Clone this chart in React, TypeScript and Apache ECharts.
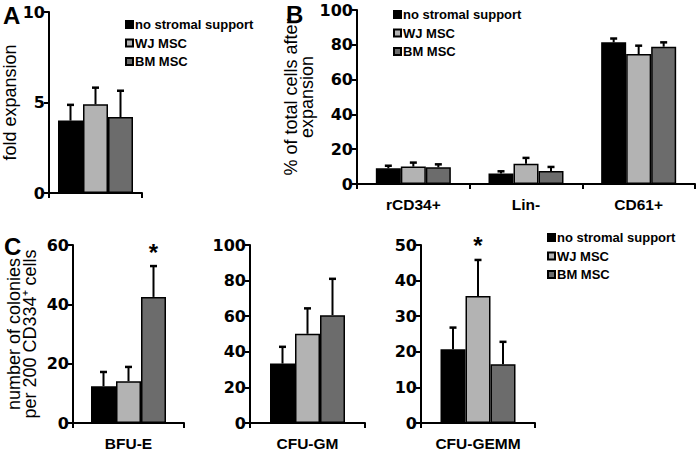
import React, { useEffect, useRef } from 'react';
import * as echarts from 'echarts';

const groups = ['no stromal support', 'WJ MSC', 'BM MSC'];
const groupColors = ['#000000', '#b3b3b3', '#6c6c6c'];

// Panel A: fold expansion
const foldCats = [''];
const foldNone = [4.0];
const foldNoneErr = [0.87];
const foldWJ = [4.9];
const foldWJErr = [0.92];
const foldBM = [4.2];
const foldBMErr = [1.45];

// Panel B: % of total cells after expansion
const phenoCats = ['rCD34+', 'Lin-', 'CD61+'];
const phenoNone = [9.0, 6.0, 81.4];
const phenoNoneErr = [1.5, 1.3, 2.2];
const phenoWJ = [10.0, 11.7, 74.7];
const phenoWJErr = [2.3, 3.3, 4.8];
const phenoBM = [9.6, 7.5, 78.9];
const phenoBMErr = [1.7, 2.3, 2.5];

// Panel C: colonies
const bfuCats = ['BFU-E'];
const bfuMean = [12.4, 14.1, 42.5];
const bfuErr = [4.8, 4.8, 10.4];
const bfuStar = [false, false, true];

const gmCats = ['CFU-GM'];
const gmMean = [33.4, 50.1, 60.6];
const gmErr = [9.4, 14.3, 20.4];
const gmStar = [false, false, false];

const gemmCats = ['CFU-GEMM'];
const gemmMean = [20.7, 35.7, 16.5];
const gemmErr = [6.1, 10.1, 6.3];
const gemmStar = [false, true, false];

const FONT = '"Liberation Sans", Arial, sans-serif';
const TICK_FONT = '"DejaVu Sans", "Liberation Sans", sans-serif';
const BAR_W = 25;

type Panel = {
  grid: any;
  cats: string[];
  means: number[][]; // [group][cat]
  errs: number[][];
  stars: boolean[][];
  max: number;
  interval: number;
  name: string;
  nameGap: number;
  labelMargin: number;
};

const panels: Panel[] = [
  {
    grid: { left: 49, top: 12, width: 93, height: 181 },
    cats: foldCats,
    means: [foldNone, foldWJ, foldBM],
    errs: [foldNoneErr, foldWJErr, foldBMErr],
    stars: [[false], [false], [false]],
    max: 10,
    interval: 5,
    name: 'fold expansion',
    nameGap: 28,
    labelMargin: 10,
  },
  {
    grid: { left: 357, top: 10, width: 338, height: 174 },
    cats: phenoCats,
    means: [phenoNone, phenoWJ, phenoBM],
    errs: [phenoNoneErr, phenoWJErr, phenoBMErr],
    stars: [[false, false, false], [false, false, false], [false, false, false]],
    max: 100,
    interval: 20,
    name: '% of total cells after\nexpansion',
    nameGap: 39,
    labelMargin: 12,
  },
  {
    grid: { left: 73, top: 245, width: 111, height: 178 },
    cats: bfuCats,
    means: bfuMean.map((v) => [v]),
    errs: bfuErr.map((v) => [v]),
    stars: bfuStar.map((v) => [v]),
    max: 60,
    interval: 20,
    name: 'number of colonies\nper 200 CD334\u207A cells',
    nameGap: 35,
    labelMargin: 12,
  },
  {
    grid: { left: 250, top: 245, width: 115, height: 178 },
    cats: gmCats,
    means: gmMean.map((v) => [v]),
    errs: gmErr.map((v) => [v]),
    stars: gmStar.map((v) => [v]),
    max: 100,
    interval: 20,
    name: '',
    nameGap: 30,
    labelMargin: 12,
  },
  {
    grid: { left: 421, top: 245, width: 114, height: 178 },
    cats: gemmCats,
    means: gemmMean.map((v) => [v]),
    errs: gemmErr.map((v) => [v]),
    stars: gemmStar.map((v) => [v]),
    max: 50,
    interval: 10,
    name: '',
    nameGap: 30,
    labelMargin: 12,
  },
];

function buildOption() {
  const grids: any[] = [];
  const xAxes: any[] = [];
  const yAxes: any[] = [];
  const series: any[] = [];

  panels.forEach((p, i) => {
    grids.push({ ...p.grid, containLabel: false, outerBoundsMode: 'none' });
    xAxes.push({
      type: 'category',
      gridIndex: i,
      data: p.cats,
      axisLine: { lineStyle: { color: '#000', width: 2 } },
      axisTick: { show: true, alignWithLabel: false, interval: 0, length: 5, lineStyle: { color: '#000', width: 2 } },
      axisLabel: { color: '#000', fontFamily: FONT, fontWeight: 'bold', fontSize: 15.5, margin: p.labelMargin, interval: 0 },
      splitLine: { show: false },
    });
    yAxes.push({
      type: 'value',
      gridIndex: i,
      min: 0,
      max: p.max,
      interval: p.interval,
      name: p.name,
      nameLocation: 'middle',
      nameRotate: 90,
      nameGap: p.nameGap,
      nameTextStyle: { color: '#000', fontFamily: FONT, fontSize: 18, lineHeight: 16 },
      axisLine: { show: true, lineStyle: { color: '#000', width: 2 } },
      axisTick: { show: true, length: 5, lineStyle: { color: '#000', width: 2 } },
      axisLabel: { color: '#000', fontFamily: TICK_FONT, fontWeight: 'bold', fontSize: 16, lineHeight: 13, margin: 4 },
      splitLine: { show: false },
    });

    groups.forEach((g, gi) => {
      series.push({
        type: 'bar',
        name: g,
        xAxisIndex: i,
        yAxisIndex: i,
        data: p.means[gi],
        barWidth: BAR_W,
        barGap: '0%',
        itemStyle: { color: groupColors[gi], borderColor: '#000', borderWidth: 1.5 },
        z: 2,
      });
    });

    const errData: any[] = [];
    groups.forEach((g, gi) => {
      p.cats.forEach((c, ci) => {
        errData.push([ci, p.means[gi][ci], p.errs[gi][ci], gi - 1, p.stars[gi][ci] ? 1 : 0]);
      });
    });
    series.push({
      type: 'custom',
      xAxisIndex: i,
      yAxisIndex: i,
      data: errData,
      encode: { x: 0, y: 1 },
      z: 5,
      renderItem: (params: any, api: any) => {
        const cat = api.value(0);
        const mean = api.value(1);
        const err = api.value(2);
        const off = api.value(3);
        const star = api.value(4);
        const base = api.coord([cat, mean]);
        const top = api.coord([cat, mean + err]);
        const x = base[0] + off * BAR_W;
        const children: any[] = [
          { type: 'line', shape: { x1: x, y1: base[1], x2: x, y2: top[1] }, style: { stroke: '#000', lineWidth: 2 } },
          { type: 'line', shape: { x1: x - 3.5, y1: top[1], x2: x + 3.5, y2: top[1] }, style: { stroke: '#000', lineWidth: 2.5 } },
        ];
        if (star) {
          children.push({
            type: 'text',
            style: {
              text: '*',
              x: x,
              y: top[1] - 2,
              align: 'center',
              verticalAlign: 'bottom',
              font: `bold 24px ${FONT}`,
              fill: '#000',
            },
          });
        }
        return { type: 'group', children };
      },
    });
  });

  const legendBase = {
    data: groups,
    orient: 'vertical',
    itemWidth: 7,
    itemHeight: 7,
    itemGap: 5.5,
    padding: 0,
    selectedMode: false,
    icon: 'rect',
    textStyle: { color: '#000', fontFamily: FONT, fontWeight: 'bold', fontSize: 13, padding: [0, 0, 0, -3] },
  };

  return {
    animation: false,
    backgroundColor: '#fff',
    grid: grids,
    xAxis: xAxes,
    yAxis: yAxes,
    series,
    legend: [
      { ...legendBase, left: 125, top: 18 },
      { ...legendBase, left: 393, top: 8 },
      { ...legendBase, left: 547, top: 231 },
    ],
    graphic: [
      { type: 'text', left: 3, top: 3, style: { text: 'A', font: `bold 24px ${FONT}`, fill: '#000' } },
      { type: 'text', left: 286, top: 2, style: { text: 'B', font: `bold 24px ${FONT}`, fill: '#000' } },
      { type: 'text', left: 4, top: 234, style: { text: 'C', font: `bold 24px ${FONT}`, fill: '#000' } },
    ],
  };
}

export default function App() {
  const ref = useRef<HTMLDivElement>(null);
  useEffect(() => {
    if (!ref.current) return;
    const chart = echarts.init(ref.current, undefined, { renderer: 'svg' });
    chart.setOption(buildOption() as any);
    return () => chart.dispose();
  }, []);
  return (
    <div
      ref={ref}
      style={{ position: 'fixed', left: 0, top: 0, width: 700, height: 450, background: '#fff' }}
    />
  );
}
